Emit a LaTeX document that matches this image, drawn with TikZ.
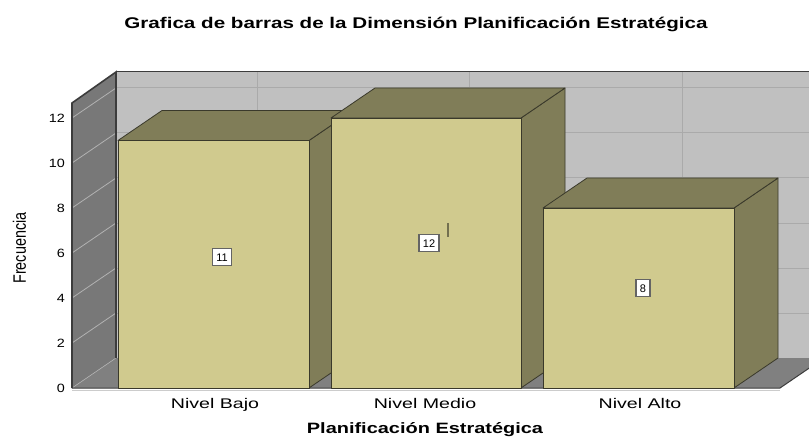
\documentclass[tikz,border=0pt]{standalone}
\usepackage{fontspec}
\setmainfont{Liberation Sans}
\definecolor{barfront}{RGB}{208,202,142}
\definecolor{bardark}{RGB}{128,125,88}
\definecolor{baredge}{RGB}{58,57,43}
\definecolor{backwall}{RGB}{192,192,192}
\definecolor{leftwall}{RGB}{120,120,120}
\definecolor{floorc}{RGB}{128,128,128}
\definecolor{gridback}{RGB}{170,170,170}
\definecolor{gridleft}{RGB}{178,178,178}
\definecolor{walledge}{RGB}{60,60,60}
\definecolor{lblborder}{RGB}{100,100,100}
\tikzset{
  faceF/.style={fill=barfront,draw=baredge,line width=0.8pt,line join=round},
  faceD/.style={fill=bardark,draw=baredge,line width=0.8pt,line join=round},
  vallbl/.style={fill=white,draw=lblborder,line width=1.5pt,inner xsep=4pt,inner ysep=0pt,minimum height=17pt,text height=8pt,text depth=0pt,font=\fontsize{11}{13}\selectfont},
  ticklbl/.style={anchor=base east,inner sep=0pt,font=\fontsize{12}{14}\selectfont},
  catlbl/.style={anchor=base,inner sep=0pt,font=\fontsize{14}{16}\selectfont},
}
\newcommand{\wide}[2]{\scalebox{#1}[1]{#2}}
\newcommand{\drawbar}[3]{% x1, x2, ytop
  \draw[faceD] (#2,#3) -- ({#2+44},{#3-30}) -- ({#2+44},358) -- (#2,388) -- cycle;
  \draw[faceD] (#1,#3) -- ({#1+44},{#3-30}) -- ({#2+44},{#3-30}) -- (#2,#3) -- cycle;
  \draw[faceF] (#1,#3) rectangle (#2,388);
}
\begin{document}
\begin{tikzpicture}[x=1pt,y=-1pt]
\useasboundingbox (0,0) rectangle (809,441);
\fill[white] (0,0) rectangle (809,441);
\begin{scope}
\clip (0,0) rectangle (809,441);
% back wall
\fill[backwall] (116,72) rectangle (824,358);
\foreach \k in {1,...,6} \draw[gridback,line width=1pt] (116,{358-45*\k}) -- (824,{358-45*\k});
\foreach \xx in {257,469,682} \draw[gridback,line width=1pt] (\xx,72) -- (\xx,358);
\draw[walledge,line width=1pt] (116,72) -- (824,72);
% left wall
\fill[leftwall] (72,388) -- (72,103) -- (116,72) -- (116,358) -- cycle;
\foreach \k in {1,...,6} \draw[gridleft,line width=0.8pt] (72,{388-45*\k}) -- (116,{358-45*\k});
% floor
\fill[floorc] (72,388) -- (780,388) -- (824,358) -- (116,358) -- cycle;
\draw[gridleft,line width=0.6pt] (72,388) -- (116,358);
\draw[walledge,line width=1.6pt] (72,388) -- (72,103) -- (116,72) -- (116,358);
\draw[walledge,line width=1pt] (72,388) -- (780,388) -- (824,358);
\draw[gray!40,line width=0.8pt] (72,390) -- (780,390);
% bars
\drawbar{118}{309}{140.5}
\drawbar{331}{521}{118}
\drawbar{543}{734}{208}
\end{scope}
% artifact mark
\draw[bardark!90!black,line width=1.8pt] (448,223) -- (448,237);
% value labels
\node[vallbl] (v1) at (222,257) {11};
\node[vallbl] (v2) at (429,243) {12};
\node[vallbl] (v3) at (643,288) {8};
% tick labels
\foreach \k in {0,...,6} {
  \pgfmathtruncatemacro{\val}{2*\k}
  \node[ticklbl] (t\k) at (65,{392.5-45*\k}) {\wide{1.2}{\val}};
}
% category labels
\node[catlbl] (c1) at (215,408) {\wide{1.4}{Nivel Bajo}};
\node[catlbl] (c2) at (425,408) {\wide{1.4}{Nivel Medio}};
\node[catlbl] (c3) at (640,408) {\wide{1.4}{Nivel Alto}};
% axis titles
\node[anchor=base,inner sep=0pt,font=\bfseries\fontsize{15}{18}\selectfont] (xt) at (425,433) {\wide{1.33}{Planificación Estratégica}};
\node[rotate=90,inner sep=0pt,font=\fontsize{18}{20}\selectfont] (yt) at (19.5,248) {\wide{0.8}{Frecuencia}};
% title
\node[anchor=base,inner sep=0pt,font=\bfseries\fontsize{15.5}{18}\selectfont] (title) at (416,29) {\wide{1.33}{Grafica de barras de la Dimensión Planificación Estratégica}};
\end{tikzpicture}
\end{document}
